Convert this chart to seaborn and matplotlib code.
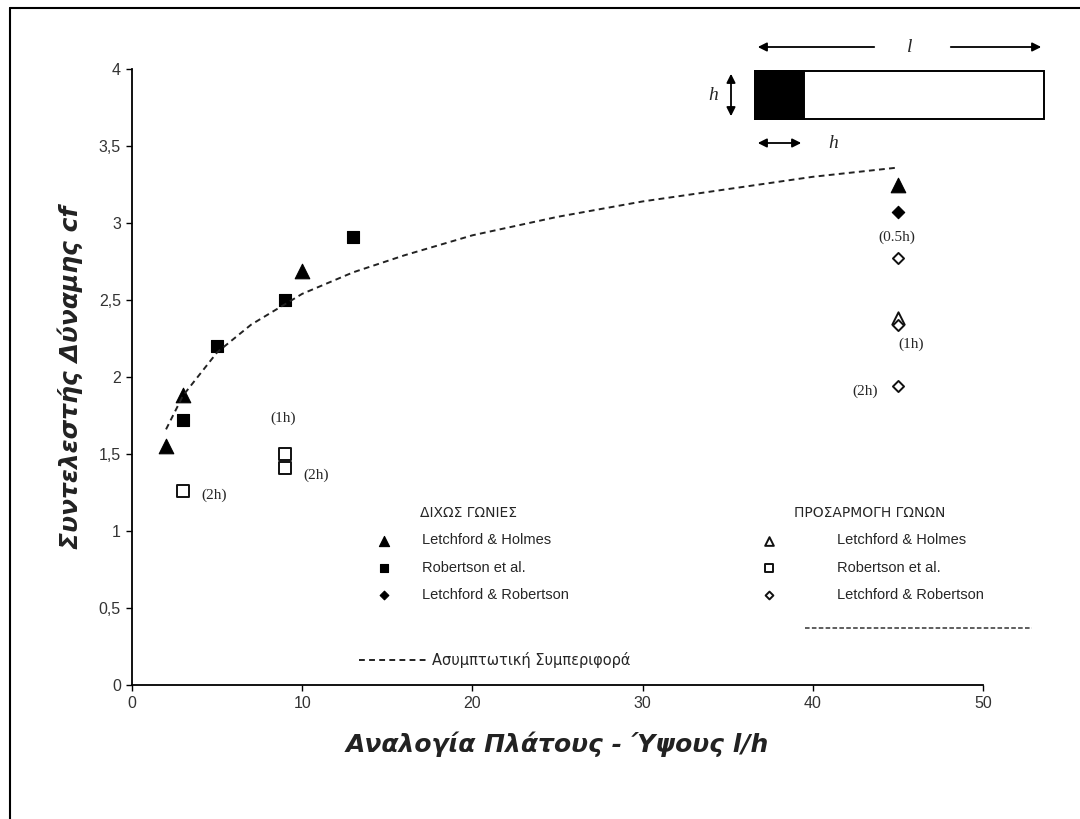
import matplotlib
matplotlib.use("Agg")
import matplotlib.pyplot as plt
import seaborn as sns
from matplotlib.lines import Line2D
from matplotlib.patches import Rectangle, FancyArrowPatch
from matplotlib.ticker import FuncFormatter, MultipleLocator

# without corner modification (filled markers)
lh_x = [2, 3, 10, 45]
lh_y = [1.55, 1.88, 2.69, 3.25]
rob_x = [3, 5, 9, 13]
rob_y = [1.72, 2.2, 2.5, 2.91]
lr_x = [45]
lr_y = [3.07]

# with corner modification (open markers)
lh_mod_x = [45]
lh_mod_y = [2.38]
rob_mod_x = [3, 9, 9]
rob_mod_y = [1.26, 1.5, 1.41]
lr_mod_x = [45, 45, 45]
lr_mod_y = [2.77, 2.34, 1.94]

# asymptotic behaviour
curve_x = [2, 3, 5, 7, 10, 13, 16, 20, 25, 30, 35, 40, 45]
curve_y = [1.66, 1.88, 2.16, 2.34, 2.54, 2.68, 2.79, 2.92, 3.04, 3.14, 3.22, 3.30, 3.36]

# corner modification sizes written next to the open markers
notes = ["(2h)", "(1h)", "(2h)", "(0.5h)", "(1h)", "(2h)"]
note_x = [4.8, 8.9, 10.8, 44.95, 45.8, 43.1]
note_y = [1.23, 1.73, 1.36, 2.91, 2.21, 1.91]

W, H = 1080, 819

sns.set_style("ticks")
plt.rcParams['font.family'] = ['Liberation Sans', 'DejaVu Sans']
greek = ['DejaVu Sans', 'Liberation Sans']

fig = plt.figure(figsize=(W / 100, H / 100), dpi=100)
ax = fig.add_axes([132 / W, 1 - 685 / H, (983 - 132) / W, 616 / H])

sns.lineplot(x=curve_x, y=curve_y, ax=ax, color="#222222", lw=1.4,
             linestyle=(0, (3, 2.2)), label="Ασυμπτωτική Συμπεριφορά")

filled = dict(color="black", edgecolor="black", linewidth=0.8, ax=ax)
sns.scatterplot(x=lh_x, y=lh_y, marker="^", s=110, label="Letchford & Holmes", **filled)
sns.scatterplot(x=rob_x, y=rob_y, marker="s", s=75, label="Robertson et al.", **filled)
sns.scatterplot(x=lr_x, y=lr_y, marker="D", s=40, label="Letchford & Robertson", **filled)

hollow = dict(color="white", edgecolor="#111111", linewidth=1.4, ax=ax)
sns.scatterplot(x=lh_mod_x, y=lh_mod_y, marker="^", s=80, label="Letchford & Holmes ", **hollow)
sns.scatterplot(x=rob_mod_x, y=rob_mod_y, marker="s", s=75, label="Robertson et al. ", **hollow)
sns.scatterplot(x=lr_mod_x, y=lr_mod_y, marker="D", s=32, label="Letchford & Robertson ", **hollow)

for t, x, y in zip(notes, note_x, note_y):
    ax.text(x, y, t, ha="center", va="center", fontsize=11,
            family=["Liberation Serif", "DejaVu Serif"])

ax.set_xlim(0, 50)
ax.set_ylim(0, 4)
ax.xaxis.set_major_locator(MultipleLocator(10))
ax.yaxis.set_major_locator(MultipleLocator(0.5))
ax.yaxis.set_major_formatter(FuncFormatter(lambda v, p: f"{v:g}".replace(".", ",")))
ax.tick_params(direction="out", length=4, width=1, colors="black",
               labelcolor="#333333", labelsize=11.5, pad=4)
sns.despine(ax=ax)
for s in ["left", "bottom"]:
    ax.spines[s].set_linewidth(1.3)
    ax.spines[s].set_color("black")

label_kw = dict(fontsize=18, fontweight="bold", fontstyle="italic", color="#222222",
                va="center", family=greek)
ax.set_xlabel("Αναλογία Πλάτους - Ύψους l/h", **label_kw)
ax.xaxis.set_label_coords(0.5, -(744 - 685) / 616)
ax.set_ylabel("Συντελεστής Δύναμης cf", **label_kw)
ax.yaxis.set_label_coords(-(132 - 70) / 851, 0.5)

# legends built from the plotted artists
handles, labels = ax.get_legend_handles_labels()
hmap = dict(zip(labels, handles))
ax.get_legend().remove()

leg_kw = dict(frameon=False, fontsize=10.5, labelspacing=0.9, markerscale=0.7,
              borderpad=0, loc="upper left", bbox_transform=fig.transFigure)
names = ["Letchford & Holmes", "Robertson et al.", "Letchford & Robertson"]
leg1 = ax.legend([hmap[k] for k in names], names, title="ΔΙΧΩΣ ΓΩΝΙΕΣ",
                 handletextpad=1.6, bbox_to_anchor=(362 / W, 1 - 499 / H), **leg_kw)
leg1.get_title().set_fontfamily(greek)
leg1.get_title().set_fontsize(10)
ax.add_artist(leg1)
leg2 = ax.legend([hmap[k + " "] for k in names], names, title="ΠΡΟΣΑΡΜΟΓΗ ΓΩΝΩΝ",
                 handletextpad=3.7, bbox_to_anchor=(747 / W, 1 - 499 / H), **leg_kw)
leg2.get_title().set_fontfamily(greek)
leg2.get_title().set_fontsize(10)
ax.add_artist(leg2)
leg3 = ax.legend([hmap["Ασυμπτωτική Συμπεριφορά"]], ["Ασυμπτωτική Συμπεριφορά"],
                 frameon=False, handlelength=4.8, handletextpad=0.2,
                 borderpad=0, loc="center left", bbox_to_anchor=(352 / W, 1 - 660 / H),
                 bbox_transform=fig.transFigure, prop={"family": greek, "size": 10.5})

# dashed separator under the right legend group
fig.add_artist(Line2D([805 / W, 1032 / W], [1 - 628 / H] * 2, transform=fig.transFigure,
                      color="#333333", lw=1.1, linestyle=(0, (3, 1.5))))

# sketch of the wall: l x h with the modified corner zone h
def fx(px):
    return px / W

def fy(py):
    return 1 - py / H

fig.add_artist(Rectangle((fx(755), fy(119)), fx(1044) - fx(755), fy(71) - fy(119),
                         transform=fig.transFigure, fill=False, ec="black", lw=1.4))
fig.add_artist(Rectangle((fx(755), fy(119)), fx(804) - fx(755), fy(71) - fy(119),
                         transform=fig.transFigure, fc="black", ec="black", lw=1.4))
arrow_kw = dict(transform=fig.transFigure, color="black", lw=1.3, mutation_scale=13)
fig.add_artist(FancyArrowPatch((fx(877), fy(47)), (fx(755), fy(47)), arrowstyle="-|>", **arrow_kw))
fig.add_artist(FancyArrowPatch((fx(948), fy(47)), (fx(1044), fy(47)), arrowstyle="-|>", **arrow_kw))
fig.add_artist(FancyArrowPatch((fx(731), fy(71)), (fx(731), fy(119)), arrowstyle="<|-|>", **arrow_kw))
fig.add_artist(FancyArrowPatch((fx(755), fy(143)), (fx(804), fy(143)), arrowstyle="<|-|>", **arrow_kw))
serif_it = dict(transform=fig.transFigure, fontsize=14, fontstyle="italic",
                family=["Liberation Serif", "DejaVu Serif"], ha="center", va="center")
fig.text(fx(910), fy(47), "l", **serif_it)
fig.text(fx(713), fy(95), "h", **serif_it)
fig.text(fx(833), fy(143), "h", **serif_it)

# outer frame (top and left edges visible)
fig.add_artist(Line2D([fx(10), fx(10)], [0, fy(8)], transform=fig.transFigure, color="black", lw=1.5))
fig.add_artist(Line2D([fx(10), 1], [fy(8), fy(8)], transform=fig.transFigure, color="black", lw=1.5))

fig.savefig("out.png", dpi=100)
